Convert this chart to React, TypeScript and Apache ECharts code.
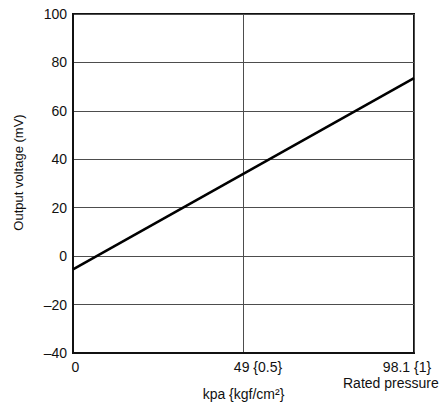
import React, { useEffect, useRef } from "react";
import * as echarts from "echarts";

// Data
const xTickValues = [0, 0.5, 1];
const xTickLabels = ["0", "49 {0.5}", "98.1 {1}"];
const lineX = [0, 1];
const lineY = [-5.5, 73.5];
const yMin = -40;
const yMax = 100;
const yStep = 20;
const xName = "kpa {kgf/cm²}";
const yName = "Output voltage (mV)";
const ratedLabel = "Rated pressure";

const FONT = "'Liberation Sans', Arial, Helvetica, sans-serif";

export default function App() {
  const ref = useRef<HTMLDivElement>(null);
  useEffect(() => {
    if (!ref.current) return;
    const chart = echarts.init(ref.current, null, { renderer: "svg" });
    const padKeys = ["a", "b", "c"];
    chart.setOption({
      animation: false,
      backgroundColor: "#fff",
      textStyle: { fontFamily: FONT },
      grid: {
        left: 73,
        top: 14,
        width: 341,
        height: 339,
        containLabel: false,
        outerBoundsMode: "none",
        show: true,
        borderColor: "#111",
        borderWidth: 2,
        backgroundColor: "transparent",
      },
      xAxis: {
        type: "value",
        min: 0,
        max: 1,
        interval: 0.5,
        name: xName,
        nameLocation: "middle",
        nameGap: 34,
        nameTextStyle: { fontSize: 14, color: "#111", fontFamily: FONT },
        axisLine: { show: true, onZero: false, lineStyle: { color: "#111", width: 2 } },
        axisTick: { show: false },
        splitLine: { show: true, lineStyle: { color: "#4d4d4d", width: 1 } },
        axisLabel: {
          fontSize: 14,
          color: "#111",
          fontFamily: FONT,
          margin: 7,
          showMinLabel: true,
          showMaxLabel: true,
          formatter: (v: number) => {
            const i = xTickValues.findIndex((t) => Math.abs(t - v) < 1e-9);
            if (i < 0) return "";
            const txt = xTickLabels[i];
            if (i === 2) return txt + "{" + padKeys[i] + "| }";
            return "{" + padKeys[i] + "| }" + txt;
          },
          rich: {
            a: { width: 5, fontSize: 14 },
            b: { width: 29, fontSize: 14 },
            c: { width: 14, fontSize: 14 },
          },
        },
      },
      yAxis: {
        type: "value",
        min: yMin,
        max: yMax,
        interval: yStep,
        name: yName,
        nameLocation: "middle",
        nameRotate: 90,
        nameGap: 48,
        nameTextStyle: {
          fontSize: 13,
          color: "#111",
          fontFamily: FONT,
          padding: [0, 0, 0, 22],
        },
        axisLine: { show: true, lineStyle: { color: "#111", width: 2 } },
        axisTick: { show: false },
        splitLine: { show: true, lineStyle: { color: "#4d4d4d", width: 1 } },
        axisLabel: {
          fontSize: 14,
          color: "#111",
          fontFamily: FONT,
          margin: 6,
          formatter: (v: number) => String(v).replace("-", "\u2013"),
        },
      },
      graphic: [
        {
          type: "text",
          left: 343,
          top: 376,
          style: {
            text: ratedLabel,
            fontSize: 14,
            fill: "#111",
            fontFamily: FONT,
          },
        },
      ],
      series: [
        {
          type: "line",
          data: lineX.map((x, i) => [x, lineY[i]]),
          symbol: "none",
          lineStyle: { color: "#000", width: 2.5 },
        },
      ],
    });
    return () => chart.dispose();
  }, []);
  return (
    <div
      ref={ref}
      style={{ position: "absolute", left: 0, top: 0, width: 440, height: 404 }}
    />
  );
}
